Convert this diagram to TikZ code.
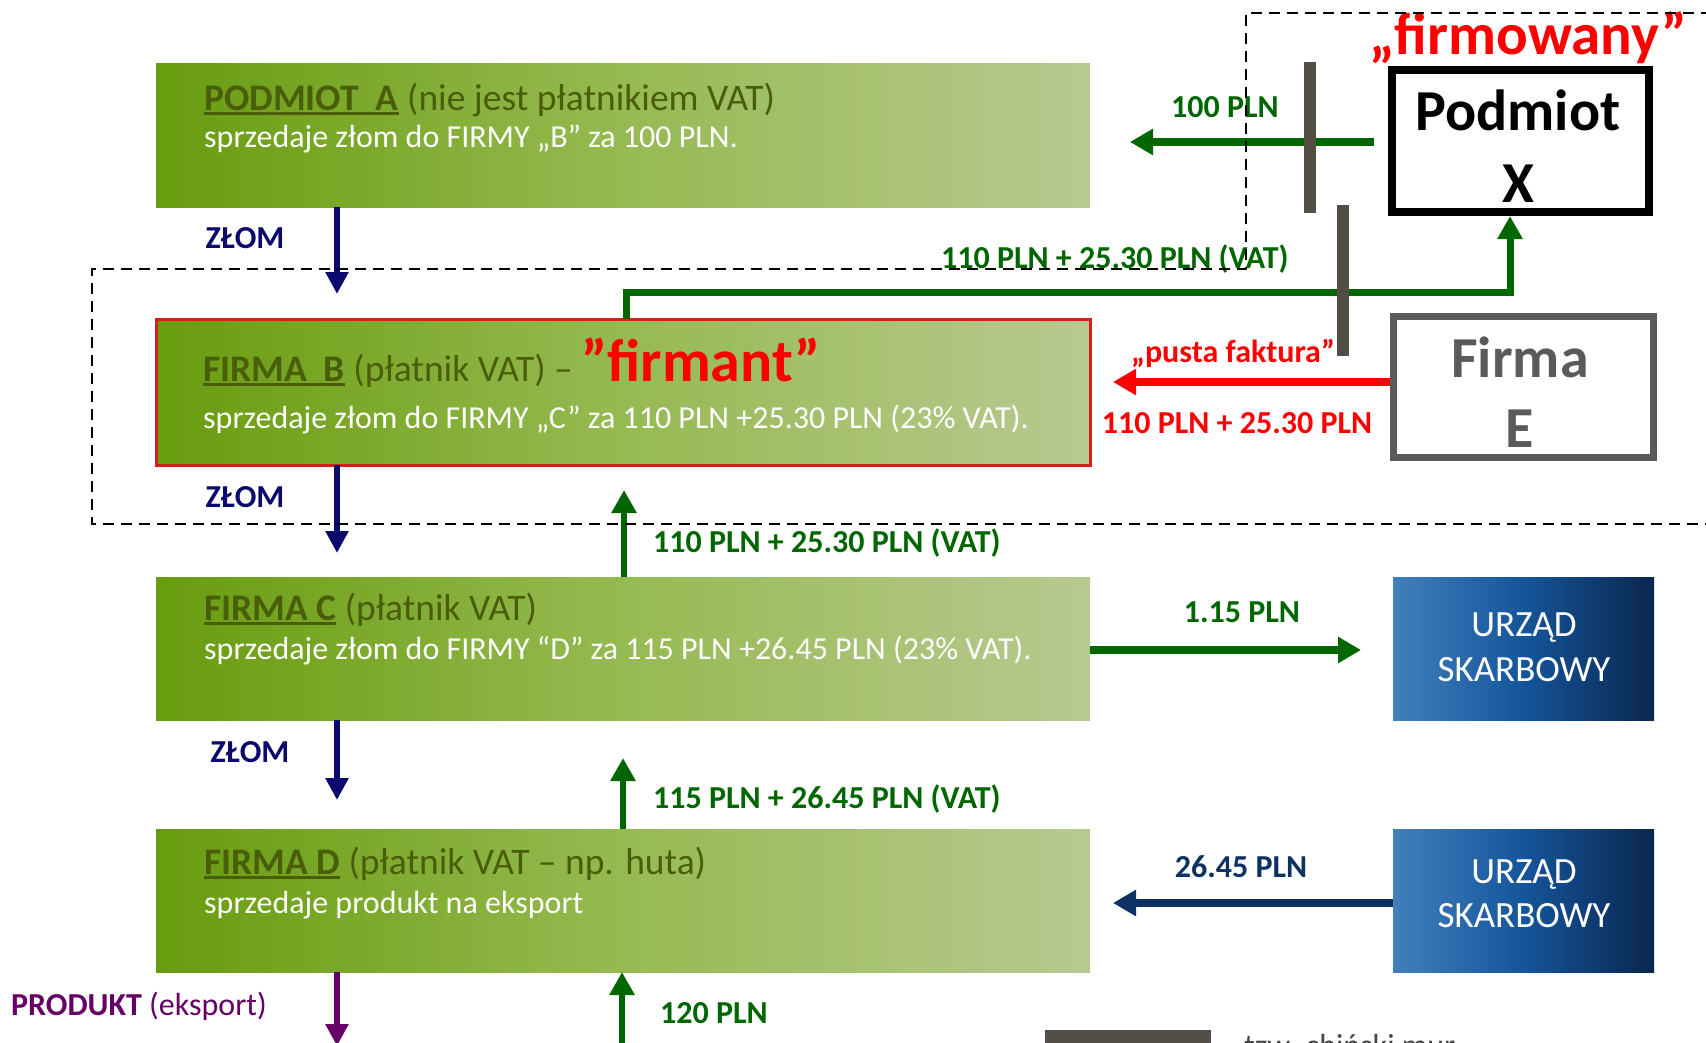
\documentclass[tikz,border=0pt]{standalone}
\usepackage{fontspec}
\setmainfont{Carlito}
\usetikzlibrary{arrows.meta}
\definecolor{gL}{RGB}{104,156,14}
\definecolor{gM}{RGB}{150,186,82}
\definecolor{gR}{RGB}{184,201,144}
\definecolor{ttl}{RGB}{74,94,10}
\definecolor{arrG}{RGB}{0,102,0}
\definecolor{navyc}{RGB}{10,10,110}
\definecolor{purp}{RGB}{102,0,102}
\definecolor{barG}{RGB}{82,78,70}
\definecolor{eG}{RGB}{90,90,90}
\definecolor{bL}{RGB}{66,128,188}
\definecolor{bM}{RGB}{20,85,155}
\definecolor{bR}{RGB}{10,38,78}
\definecolor{usArr}{RGB}{12,50,100}
\definecolor{redB}{RGB}{215,30,30}
\definecolor{legT}{RGB}{70,70,70}
\newcommand\myul[1]{\vtop{\hbox{#1}\kern1.5pt\hrule height 3pt}}
\tikzset{
  gbox/.style={anchor=north west, inner sep=0pt, outer sep=0pt, minimum width=934pt,
     left color=gL, right color=gR, middle color=gM},
  usbox/.style={anchor=north west, inner sep=0pt, outer sep=0pt, minimum width=261pt, minimum height=143pt,
     left color=bL, right color=bR, middle color=bM},
  ttlfont/.style={font=\fontsize{37.5}{40}\selectfont, text=ttl, anchor=base west, inner sep=0pt},
  subfont/.style={font=\fontsize{32}{36}\selectfont, text=white, anchor=base west, inner sep=0pt},
  lbl/.style={font=\bfseries\fontsize{32}{34}\selectfont, inner sep=0pt, anchor=base},
  ustext/.style={font=\fontsize{37}{40}\selectfont, text=white, inner sep=0pt, anchor=base},
  bigtext/.style={font=\bfseries\fontsize{58}{60}\selectfont, inner sep=0pt, anchor=base},
  zlomarr/.style={draw=navyc, line width=6pt, -{Triangle[length=22pt,width=22pt]}},
  purparr/.style={draw=purp, line width=6pt, -{Triangle[length=22pt,width=22pt]}},
  vgarr/.style={draw=arrG, line width=6.5pt, -{Triangle[length=23pt,width=24pt]}},
  hgarr/.style={draw=arrG, line width=8.5pt, -{Triangle[length=23pt,width=25pt]}},
  redarr/.style={draw=red, line width=8.5pt, -{Triangle[length=23pt,width=25pt]}},
  usarr/.style={draw=usArr, line width=8.5pt, -{Triangle[length=23pt,width=25pt]}},
  wallbar/.style={fill=barG, inner sep=0pt, minimum width=11.5pt},
  dashline/.style={draw=black, line width=2.8pt, dash pattern=on 11pt off 7pt},
}
\begin{document}
\begin{tikzpicture}[x=1pt,y=-1pt]
\useasboundingbox (0,0) rectangle (1706,1042);
\clip (0,0) rectangle (1706,1042);
\fill[white] (0,0) rectangle (1706,1042);

% green boxes
\node[gbox, minimum height=144pt] (A) at (156,63) {};
\node[gbox, minimum height=146pt, draw=redB, line width=3pt] (B) at (156,319) {};
\node[gbox, minimum height=143pt] (C) at (156,577) {};
\node[gbox, minimum height=143pt] (D) at (156,829) {};

% box texts
\node[ttlfont] (tA1) at (204,110) {\myul{\bfseries PODMIOT\ \ A} (nie jest płatnikiem VAT)};
\node[subfont] (tA2) at (204,147) {sprzedaje złom do FIRMY „B” za 100 PLN.};
\node[ttlfont] (tB1) at (203,381) {\myul{\bfseries FIRMA\ \ B} (płatnik VAT) – {\color{red}\bfseries\fontsize{60}{62}\selectfont ”firmant”}};
\node[subfont] (tB2) at (203,428) {sprzedaje złom do FIRMY „C” za 110 PLN +25.30 PLN (23\% VAT).};
\node[ttlfont] (tC1) at (204,620) {\myul{\bfseries FIRMA C} (płatnik VAT)};
\node[subfont] (tC2) at (204,659) {sprzedaje złom do FIRMY “D” za 115 PLN +26.45 PLN (23\% VAT).};
\node[ttlfont] (tD1) at (204,874) {\myul{\bfseries FIRMA D} (płatnik VAT – np. huta)};
\node[subfont] (tD2) at (204,913) {sprzedaje produkt na eksport};

% Podmiot X and Firma E
\node[draw=black, line width=8pt, anchor=north west, inner sep=0pt, minimum width=257pt, minimum height=142pt] (X) at (1388,66) {};
\node[bigtext] (Xt1) at (1518,130) {Podmiot};
\node[bigtext] (Xt2) at (1518,202) {X};
\node[bigtext, font=\bfseries\fontsize{59}{62}\selectfont, text=red] (firm) at (1528,54) {„firmowany”};
\node[draw=eG, line width=7pt, anchor=north west, inner sep=0pt, minimum width=260pt, minimum height=141pt] (E) at (1390,313) {};
\node[bigtext, text=eG] (Et1) at (1520,377) {Firma};
\node[bigtext, text=eG] (Et2) at (1520,447) {E};

% Urzad skarbowy
\node[usbox] (US1) at (1393,577) {};
\node[ustext] (u1a) at (1524,636) {URZĄD};
\node[ustext] (u1b) at (1524,681) {SKARBOWY};
\node[usbox] (US2) at (1393,829) {};
\node[ustext] (u2a) at (1524,883) {URZĄD};
\node[ustext] (u2b) at (1524,927) {SKARBOWY};

% coordinates
\coordinate (z1) at (337,294);
\coordinate (z2) at (337,553);
\coordinate (z3) at (337,800);
\coordinate (z4) at (337,1046);
\coordinate (g1) at (624,490);
\coordinate (g2) at (623,758);
\coordinate (g3) at (622,1050);
\coordinate (gb) at (626,292);
\coordinate (gx) at (1510,292);
\coordinate (p100a) at (1374,142);
\coordinate (p100b) at (1130,142);
\coordinate (redend) at (1113,382);
\coordinate (p115) at (1361,650);
\coordinate (p2645) at (1113,903);

% material flow arrows
\draw[zlomarr] (A.south -| z1) -- (z1);
\draw[zlomarr] (B.south -| z2) -- (z2);
\draw[zlomarr] (C.south -| z3) -- (z3);
\draw[purparr] (D.south -| z4) -- (z4);

% money flow arrows
\draw[vgarr] (C.north -| g1) -- (g1);
\draw[vgarr] (D.north -| g2) -- (g2);
\draw[vgarr] (g3) -- (D.south -| g3);
\draw[draw=arrG, line width=7pt, -{Triangle[length=23pt,width=24pt]}] (B.north -| gb) -- (gb) -- (gx) -- (X.south -| gx);
\draw[hgarr] (p100a) -- (p100b);
\draw[redarr] (E.west |- redend) -- (redend);
\draw[hgarr] (C.east |- p115) -- (p115);
\draw[usarr] (US2.west |- p2645) -- (p2645);

% chinese walls
\node[wallbar, minimum height=151pt, anchor=north] (bar1) at (1310,62) {};
\node[wallbar, minimum height=151pt, anchor=north] (bar2) at (1343,205) {};

% labels
\node[lbl, text=navyc] (lz1) at (245,248) {ZŁOM};
\node[lbl, text=navyc] (lz2) at (245,507) {ZŁOM};
\node[lbl, text=navyc] (lz3) at (250,762) {ZŁOM};
\node[lbl, text=arrG] (l100) at (1225,117) {100 PLN};
\node[lbl, text=arrG, anchor=base west] (l110a) at (941,268) {110 PLN + 25.30 PLN (VAT)};
\node[lbl, text=arrG, anchor=base west] (l110b) at (653,552) {110 PLN + 25.30 PLN (VAT)};
\node[lbl, text=arrG, anchor=base west] (l115) at (653,808) {115 PLN + 26.45 PLN (VAT)};
\node[lbl, text=arrG] (l1p15) at (1242,622) {1.15 PLN};
\node[lbl, text=usArr] (l2645) at (1241,877) {26.45 PLN};
\node[lbl, text=red] (lpf) at (1233,362) {„pusta faktura”};
\node[lbl, text=red] (lred) at (1237,433) {110 PLN + 25.30 PLN};
\node[lbl, text=arrG, anchor=base west] (l120) at (660,1023) {120 PLN};
\node[font=\fontsize{32}{36}\selectfont, text=purp, anchor=base west, inner sep=0pt] (lprod) at (11,1015) {{\bfseries PRODUKT} (eksport)};

% dashed groupings
\draw[dashline] (1712,13) -- (1246,13) -- (1246,269) -- (92,269) -- (92,524) -- (1712,524);

% legend
\node[fill=barG, anchor=north west, inner sep=0pt, minimum width=166pt, minimum height=20pt] (leg) at (1045,1030) {};
\node[font=\fontsize{32}{36}\selectfont, text=legT, anchor=base west, inner sep=0pt] (legt) at (1244,1056) {tzw. chiński mur};
\end{tikzpicture}
\end{document}
